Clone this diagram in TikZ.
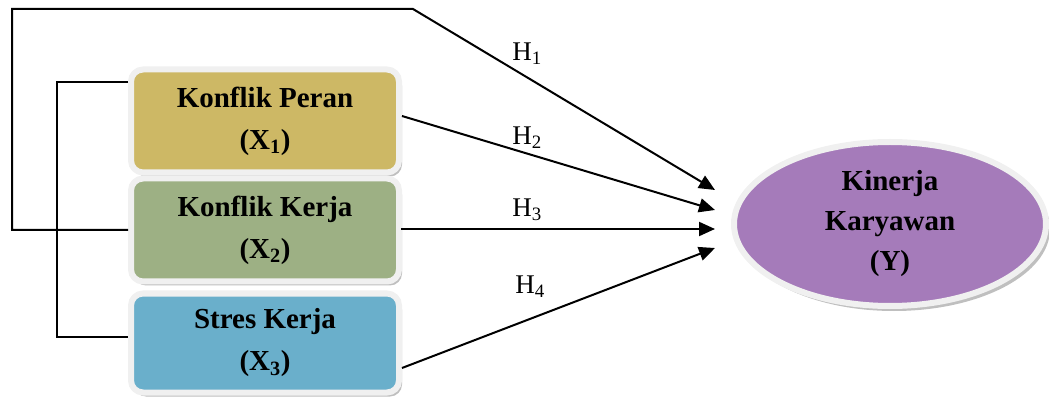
\documentclass[tikz,border=0pt]{standalone}
\usepackage{fontspec}
\setmainfont{Liberation Serif}
\usetikzlibrary{shapes.geometric}
\usetikzlibrary{arrows.meta}
\usetikzlibrary{shadows}

\definecolor{peran}{RGB}{205,184,101}
\definecolor{kerja}{RGB}{157,176,132}
\definecolor{stres}{RGB}{106,175,203}
\definecolor{kinerja}{RGB}{165,123,186}
\definecolor{rim}{RGB}{240,240,240}

\begin{document}
\begin{tikzpicture}[x=1pt,y=-1pt,line width=2pt,
    varbox/.style={rectangle,rounded corners=12pt,draw=rim,line width=6pt,
        minimum width=268pt,minimum height=103pt,align=center,
        font=\bfseries\fontsize{29}{42}\selectfont,
        drop shadow={shadow xshift=3pt,shadow yshift=-4pt,fill=black,opacity=0.25}},
    hyp/.style={font=\fontsize{27}{30}\selectfont}]

            \useasboundingbox (0,0) rectangle (1049,403);

            \path   (265,121) node (x1) [varbox,fill=peran] {Konflik Peran\\(X\textsubscript{1})}
                    (265,230) node (x2) [varbox,fill=kerja] {Konflik Kerja\\(X\textsubscript{2})}
                    (265,343) node (x3) [varbox,fill=stres,minimum height=99pt] {Stres Kerja\\(X\textsubscript{3})}
                    (890,224) node (y) [ellipse,draw=rim,line width=6pt,fill=kinerja,
                        minimum width=312pt,minimum height=164pt,align=center,
                        font=\bfseries\fontsize{29}{40}\selectfont,
                        drop shadow={shadow xshift=4pt,shadow yshift=-5pt,fill=black,opacity=0.25}]
                        {Kinerja\\Karyawan\\(Y)};

            \coordinate (k1) at (12,9);
            \coordinate (k2) at (413,9);
            \coordinate (j1) at (57,82);
            \coordinate (j2) at (57,337);
            \coordinate (t1) at (715,190);
            \coordinate (t2) at (715,210);
            \coordinate (t3) at (715,229);
            \coordinate (t4) at (715,248);

            %\draw [help lines] (0,0) grid (1049,403);

            \draw (j1 -| x1.west) -- (j1) -- (j2) -- (j2 -| x3.west);
            \draw[arrows = -{Triangle[length=16pt,width=14pt]}] (x2.west) -| (k1) -- (k2) -- (t1);
            \draw[arrows = -{Triangle[length=16pt,width=14pt]}] ([yshift=5pt]x1.east) -- (t2);
            \draw[arrows = -{Triangle[length=16pt,width=14pt]}] (x2.east) -- (t3 -| x2.east) -- (t3);
            \draw[arrows = -{Triangle[length=16pt,width=14pt]}] ([yshift=-25pt]x3.east) -- (t4);

            \path   (527,54) node (h1) [hyp] {H\textsubscript{1}}
                    (527,138) node (h2) [hyp] {H\textsubscript{2}}
                    (527,210) node (h3) [hyp] {H\textsubscript{3}}
                    (530,287) node (h4) [hyp] {H\textsubscript{4}};

        \end{tikzpicture}
\end{document}
